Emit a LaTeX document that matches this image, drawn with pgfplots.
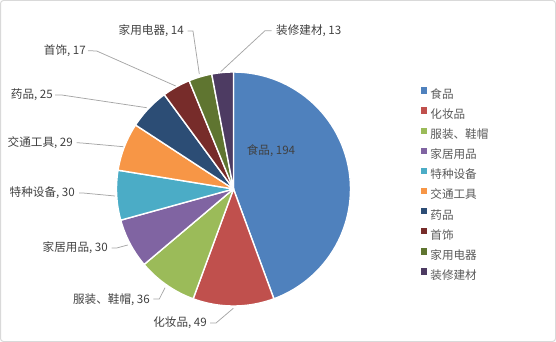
\documentclass[border=0pt]{standalone}
\usepackage{fontspec}
\setmainfont{Noto Sans CJK SC}
\usepackage{pgfplots}
\usepackage{pgfplotstable}
\pgfplotsset{compat=1.18}
\definecolor{c0}{HTML}{4F81BD}
\definecolor{c1}{HTML}{C0504D}
\definecolor{c2}{HTML}{9BBB59}
\definecolor{c3}{HTML}{8064A2}
\definecolor{c4}{HTML}{4BACC6}
\definecolor{c5}{HTML}{F79646}
\definecolor{c6}{HTML}{2C4D75}
\definecolor{c7}{HTML}{772C2A}
\definecolor{c8}{HTML}{5F7530}
\definecolor{c9}{HTML}{4D3B62}
\definecolor{lbltext}{HTML}{404040}
\definecolor{legtext}{HTML}{595959}
\definecolor{leader}{HTML}{A6A6A6}
\definecolor{frame}{HTML}{D9D9D9}
\tikzset{
  slice/.style={draw=white, line width=1.4bp, line join=round},
  lbl/.style={inner sep=0pt, text=lbltext, font=\fontsize{11.6bp}{13bp}\selectfont},
  lead/.style={leader, line width=0.75bp},
}

\pgfplotstableread{
name value
食品 194
化妆品 49
服装、鞋帽 36
家居用品 30
特种设备 30
交通工具 29
药品 25
首饰 17
家用电器 14
装修建材 13
}\piedata

\def\total{0}%
\pgfplotsforeachungrouped \i in {0,...,9}{%
  \pgfplotstablegetelem{\i}{value}\of\piedata
  \pgfmathsetmacro\total{\total+\pgfplotsretval}%
}%
\def\cum{0}%
\pgfplotsforeachungrouped \i in {0,...,9}{%
  \pgfplotstablegetelem{\i}{value}\of\piedata
  \expandafter\xdef\csname sa\i\endcsname{\cum}%
  \pgfmathsetmacro\cum{\cum+\pgfplotsretval/\total*360}%
  \expandafter\xdef\csname se\i\endcsname{\cum}%
}%

\begin{document}
\begin{tikzpicture}
\begin{axis}[
  scale only axis, width=556bp, height=342bp,
  xmin=0, xmax=556, ymin=0, ymax=342,
  hide axis, clip=false,
  legend style={at={(0.7567,0.7453)}, anchor=north west, draw=none, fill=none,
    inner sep=0pt, column sep=3bp, row sep=6.0bp,
    font=\fontsize{11.6bp}{13bp}\selectfont,
    nodes={inner sep=0pt, text height=10bp, text depth=3bp, text=legtext}},
  legend cell align=left,
  legend image code/.code={\fill[#1,draw=none] (0bp,1.2bp) rectangle (6.5bp,7.6bp);},
]
\draw[frame, line width=1bp, rounded corners=3bp] (axis cs:0.5,0.5) rectangle (axis cs:555.5,341.5);

\pgfplotsforeachungrouped \i in {0,...,9}{%
  \edef\temp{\noexpand\addplot[slice, fill=c\i, samples=60,
    domain=\csname sa\i\endcsname:\csname se\i\endcsname]
    ({233.5+117*sin(x)},{153+117*cos(x)}) -- (axis cs:233.5,153) -- cycle;}%
  \temp
}
\legend{食品,化妆品,服装、鞋帽,家居用品,特种设备,交通工具,药品,首饰,家用电器,装修建材}

\addplot[lead, forget plot] coordinates {(220.7,270.3) (265,311.3) (271.7,311.3)};
\addplot[lead, forget plot] coordinates {(187.7,311) (193,311) (199.3,268)};
\addplot[lead, forget plot] coordinates {(88,291.3) (96.7,291) (175.7,256)};
\addplot[lead, forget plot] coordinates {(55,247) (61.7,247) (146.7,234.3)};
\addplot[lead, forget plot] coordinates {(76.7,199.3) (81.7,199) (123.3,195.3)};
\addplot[lead, forget plot] coordinates {(79,149) (83,149) (115,146)};
\addplot[lead, forget plot] coordinates {(111.7,94) (116.7,94) (127.7,97)};
\addplot[lead, forget plot] coordinates {(153.3,43) (159.3,43) (165,54.3)};
\addplot[lead, forget plot] coordinates {(210,19) (216,19) (233.3,33.7)};

\node[lbl, anchor=center] at (axis cs:271,191) {食品, 194};
\node[lbl, anchor=west] at (axis cs:276,311) {装修建材, 13};
\node[lbl, anchor=east] at (axis cs:184,311) {家用电器, 14};
\node[lbl, anchor=east] at (axis cs:86,291) {首饰, 17};
\node[lbl, anchor=east] at (axis cs:53,247) {药品, 25};
\node[lbl, anchor=east] at (axis cs:73,199.3) {交通工具, 29};
\node[lbl, anchor=east] at (axis cs:75,149.3) {特种设备, 30};
\node[lbl, anchor=east] at (axis cs:108,94.3) {家居用品, 30};
\node[lbl, anchor=east] at (axis cs:150,42.7) {服装、鞋帽, 36};
\node[lbl, anchor=east] at (axis cs:207,19.3) {化妆品, 49};
\end{axis}
\end{tikzpicture}
\end{document}
